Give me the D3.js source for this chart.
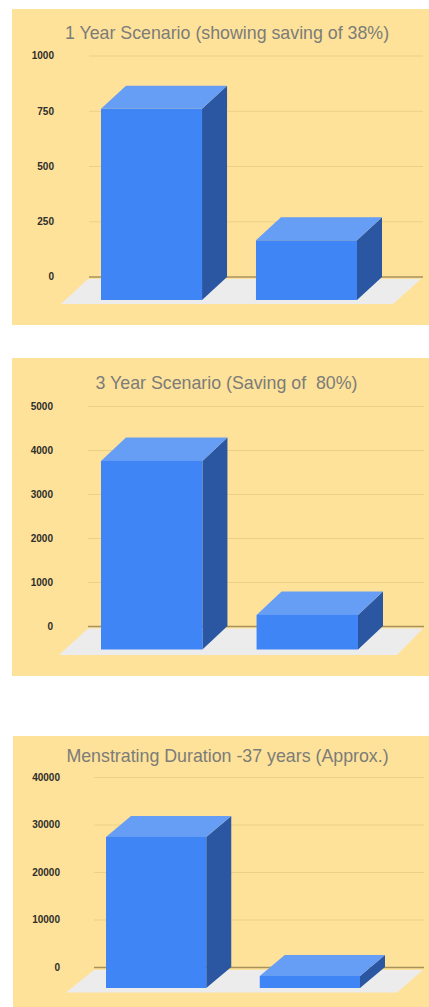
<!DOCTYPE html>
<html>
<head>
<meta charset="utf-8">
<script src="https://cdn.jsdelivr.net/npm/d3@7/dist/d3.min.js"></script>
<style>
html,body{margin:0;padding:0;background:#fff;overflow:hidden}
svg{display:block}
</style>
</head>
<body>
<svg id="chart" width="429" height="1007"></svg>
<script>
// Category names for the two columns in each chart (no axis labels are shown)
const categories = ["Disposable", "Reusable"];

const titles = [
  "1 Year Scenario (showing saving of 38%)",
  "3 Year Scenario (Saving of  80%)",
  "Menstrating Duration -37 years (Approx.)"
];

const oneYearValues = [865, 270];
const threeYearValues = [4285, 785];
const lifetimeValues = [31800, 2530];

const oneYearTicks = [0, 250, 500, 750, 1000];
const threeYearTicks = [0, 1000, 2000, 3000, 4000, 5000];
const lifetimeTicks = [0, 10000, 20000, 30000, 40000];

const seriesValues = [oneYearValues, threeYearValues, lifetimeValues];
const tickValues = [oneYearTicks, threeYearTicks, lifetimeTicks];

// Geometry of each panel: background box, plot rows, column span, floor outline
const panels = [
  {box:[12,9,429,325], titleX:227, titleY:38.5, labelX:54, gridX:[89,423], rows:[277,56],
   barX:[101,357], barBase:300, depth:[25,23],
   floor:{backY:279, frontY:304, backL:88, backR:421, frontL:61, frontR:393}},
  {box:[12,358,429,676], titleX:226.5, titleY:388.5, labelX:53, gridX:[88,424], rows:[626.5,406.5],
   barX:[101,358], barBase:649.5, depth:[25,23.5],
   floor:{backY:628.5, frontY:655, backL:88, backR:423, frontL:59, frontR:397}},
  {box:[13,736,429,1007], titleX:227.5, titleY:762, labelX:60, gridX:[94,424], rows:[967.5,777.5],
   barX:[106,360], barBase:988, depth:[25,21],
   floor:{backY:970, frontY:992.5, backL:94, backR:423, frontL:66, frontR:397}}
];

const colors = {
  panel:"#fee29a", grid:"#ecd084", zero:"#a8925c", floor:"#ececec",
  front:"#4085f5", top:"#669df5", side:"#2a56a2", title:"#7c7c78", tick:"#2e2e2a"
};

const svg = d3.select("#chart");
const polygon = d3.line();

panels.forEach((p, i) => {
  const values = seriesValues[i];
  const ticks = tickValues[i];
  const g = svg.append("g");

  g.append("rect")
    .attr("x", p.box[0]).attr("y", p.box[1])
    .attr("width", p.box[2]-p.box[0]).attr("height", p.box[3]-p.box[1])
    .attr("fill", colors.panel);

  g.append("text")
    .attr("x", p.titleX).attr("y", p.titleY)
    .attr("text-anchor", "middle")
    .attr("font-family", "Liberation Sans, Arial, sans-serif")
    .attr("font-size", 17.8)
    .style("white-space", "pre")
    .attr("fill", colors.title)
    .text(titles[i]);

  const y = d3.scaleLinear().domain(d3.extent(ticks)).range(p.rows);
  const x = d3.scaleBand().domain(categories).range(p.barX).paddingInner(0.348);

  // Floor sits beneath the zero line, gridlines run along the back wall
  const f = p.floor;
  g.append("path")
    .attr("d", polygon([[f.backL,f.backY],[f.backR,f.backY],[f.frontR,f.frontY],[f.frontL,f.frontY]])+"Z")
    .attr("fill", colors.floor);

  const axis = d3.axisLeft(y).tickValues(ticks).tickSize(0).tickPadding(0).tickFormat(d3.format("d"));
  const axisG = g.append("g")
    .attr("transform", `translate(${p.labelX},0)`)
    .call(axis);
  axisG.select(".domain").remove();
  axisG.selectAll("text")
    .attr("font-family", "Liberation Sans, Arial, sans-serif")
    .attr("font-size", 10)
    .attr("font-weight", "bold")
    .attr("fill", colors.tick)
    .attr("dy", "0.28em");

  g.selectAll("line.grid").data(ticks).join("line")
    .attr("class", "grid")
    .attr("x1", p.gridX[0]).attr("x2", p.gridX[1])
    .attr("y1", d => y(d)).attr("y2", d => y(d))
    .attr("stroke", d => d === 0 ? colors.zero : colors.grid)
    .attr("stroke-width", d => d === 0 ? 1.6 : 1);

  // Each column: the value sets the height of the front face, faces are extruded by the depth offset
  const [dx, dy] = p.depth;
  const bars = g.selectAll("g.bar").data(values).join("g").attr("class", "bar");
  const frame = (v, k) => {
    const x0 = x(categories[k]), x1 = x0 + x.bandwidth();
    const h = y(0) - y(v);
    return {x0, x1, top:p.barBase - h, base:p.barBase};
  };
  bars.append("path")
    .attr("fill", colors.side)
    .attr("d", (v,k) => { const b = frame(v,k);
      return polygon([[b.x1,b.top],[b.x1+dx,b.top-dy],[b.x1+dx,b.base-dy],[b.x1,b.base]])+"Z"; });
  bars.append("path")
    .attr("fill", colors.top)
    .attr("d", (v,k) => { const b = frame(v,k);
      return polygon([[b.x0,b.top],[b.x0+dx,b.top-dy],[b.x1+dx,b.top-dy],[b.x1,b.top]])+"Z"; });
  bars.append("rect")
    .attr("fill", colors.front)
    .attr("x", (v,k) => frame(v,k).x0)
    .attr("y", (v,k) => frame(v,k).top)
    .attr("width", x.bandwidth())
    .attr("height", (v,k) => frame(v,k).base - frame(v,k).top);
});
</script>
</body>
</html>
